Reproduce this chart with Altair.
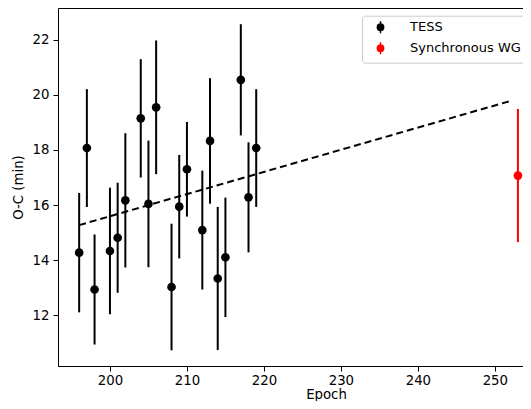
import altair as alt
import pandas as pd

# ---- data ----
tess_epoch = [196, 197, 198, 200, 201, 202, 204, 205, 206, 208, 209, 210, 212, 213, 214, 215, 217, 218, 219]
tess_oc = [14.27, 18.07, 12.93, 14.33, 14.81, 16.17, 19.15, 16.04, 19.55, 13.02, 15.94, 17.30, 15.09, 18.33, 13.33, 14.10, 20.55, 16.28, 18.07]
tess_err = [2.17, 2.14, 2.0, 2.3, 2.0, 2.44, 2.15, 2.3, 2.43, 2.3, 1.88, 1.72, 2.16, 2.28, 2.6, 2.17, 2.02, 2.0, 2.14]

wg_epoch = [253]
wg_oc = [17.07]
wg_err = [2.42]

fit_epoch = [196, 252]
fit_oc = [15.27, 19.78]

series_names = ["TESS", "Synchronous WG"]
series_colors = ["black", "red"]

x_ticks = [200, 210, 220, 230, 240, 250]
y_ticks = [12, 14, 16, 18, 20, 22]

# ---- tables ----
df = pd.DataFrame({
    "epoch": tess_epoch + wg_epoch,
    "oc": tess_oc + wg_oc,
    "err": tess_err + wg_err,
    "series": [series_names[0]] * len(tess_epoch) + [series_names[1]] * len(wg_epoch),
})
df["lo"] = df["oc"] - df["err"]
df["hi"] = df["oc"] + df["err"]
fit = pd.DataFrame({"epoch": fit_epoch, "oc": fit_oc})

FONT = "DejaVu Sans"
FS = 13.3
xscale = alt.Scale(domain=[193.25, 253.66], nice=False, zero=False)
yscale = alt.Scale(domain=[10.15, 23.16], nice=False, zero=False)
cscale = alt.Scale(domain=series_names, range=series_colors)

xaxis = alt.Axis(title="Epoch", values=x_ticks, grid=False, tickSize=5, labelPadding=2,
                 titleX=268, titleY=32, titleBaseline="alphabetic", labelFontSize=FS, titleFontSize=FS,
                 titleFontWeight="normal", domainColor="black", tickColor="black",
                 labelColor="black", titleColor="black", labelFont=FONT, titleFont=FONT)
xtop = alt.Axis(orient="top", labels=False, ticks=False, title="", grid=False,
                domainColor="black")
yaxis = alt.Axis(title="O-C (min)", values=y_ticks, grid=False, tickSize=5, labelPadding=4,
                 titlePadding=7, labelFontSize=FS, titleFontSize=FS, titleFontWeight="normal",
                 domainColor="black", tickColor="black", labelColor="black", titleColor="black",
                 labelFont=FONT, titleFont=FONT)

legend = alt.Legend(title=None, orient="none", legendX=304, legendY=7.7, padding=5,
                    strokeColor="#cccccc", fillColor="white", cornerRadius=3,
                    labelFontSize=13, labelFont=FONT, labelColor="black", labelLimit=300,
                    symbolSize=40, symbolStrokeWidth=1.5, rowPadding=2, symbolOffset=7,
                    labelOffset=23,
                    symbolType="M-1,0A1,1,0,1,1,1,0A1,1,0,1,1,-1,0Z M0,-1.9L0,1.9")

bars = alt.Chart(df).mark_rule(strokeWidth=2).encode(
    x=alt.X("epoch:Q", scale=xscale, axis=xaxis),
    y=alt.Y("lo:Q", scale=yscale, axis=yaxis),
    y2="hi:Q",
    color=alt.Color("series:N", scale=cscale, legend=legend),
)

line = alt.Chart(fit).mark_line(color="black", strokeWidth=2, strokeDash=[7, 4]).encode(
    x=alt.X("epoch:Q", scale=xscale, axis=xtop),
    y=alt.Y("oc:Q", scale=yscale, axis=yaxis),
)

points = alt.Chart(df).mark_circle(size=75, opacity=1).encode(
    x=alt.X("epoch:Q", scale=xscale, axis=None),
    y=alt.Y("oc:Q", scale=yscale, axis=yaxis),
    color=alt.Color("series:N", scale=cscale, legend=legend),
)

chart = alt.layer(bars, line, points).resolve_axis(x="independent").properties(
    width=465, height=358,
    autosize=alt.AutoSizeParams(type="none"),
    padding={"left": 50, "top": 0, "right": 0, "bottom": 35},
).configure_view(stroke="transparent").configure(font=FONT)

chart.save("out.html", embed_options={"renderer": "svg", "actions": False})
